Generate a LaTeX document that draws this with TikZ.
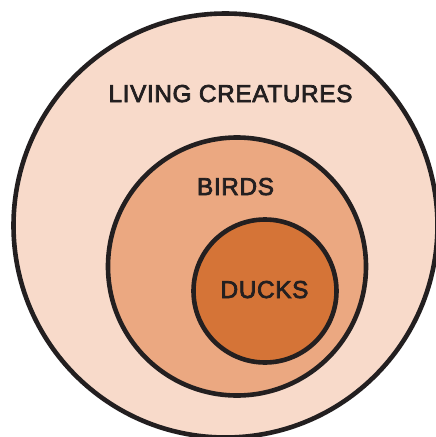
\documentclass[tikz,border=0pt]{standalone}
\usepackage{fontspec}
\setmainfont{Liberation Sans}
\newfontfamily\labfont[LetterSpace=2.5,FakeBold=3]{Liberation Sans}
\definecolor{outerfill}{HTML}{F8DACA}
\definecolor{midfill}{HTML}{EBA881}
\definecolor{innerfill}{HTML}{D57437}
\definecolor{ink}{HTML}{231F20}
\begin{document}
\begin{tikzpicture}[x=1pt,y=-1pt,
  ring/.style={circle,draw=ink,line width=4.6pt,inner sep=0pt,outer sep=0pt},
  lab/.style={anchor=base,inner sep=0pt,text=ink,font=\labfont\fontsize{24.4}{29}\selectfont}]
\useasboundingbox (0,0) rectangle (436,437);
\node[ring,fill=outerfill,minimum size=424pt] (outer) at (225.5,225.5) {};
\node[ring,fill=midfill,minimum size=258pt] (mid) at (237,266.5) {};
\node[ring,fill=innerfill,minimum size=143pt] (inner) at (265,291) {};
\node[lab] (tliving) at (230.5,102) {LIVING CREATURES};
\node[lab] (tbirds) at (235.5,195) {BIRDS};
\node[lab] (tducks) at (264.5,298) {DUCKS};
\end{tikzpicture}
\end{document}
